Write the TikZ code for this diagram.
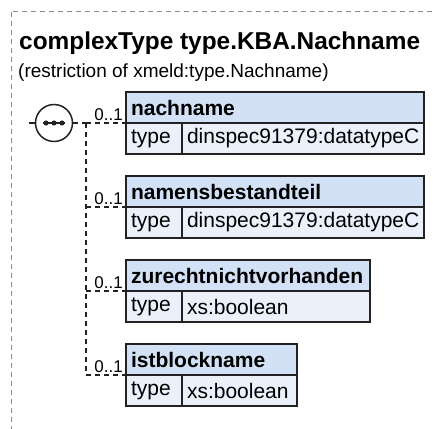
\documentclass[tikz,border=0pt]{standalone}
\usepackage{fontspec}
\setmainfont{Liberation Sans}
\usetikzlibrary{positioning,calc}
\definecolor{XsdDark}{HTML}{222222}
\definecolor{XsdHead}{HTML}{D3E1F6}
\definecolor{XsdRow}{HTML}{EAF1FB}
\definecolor{XsdFrame}{HTML}{8C8C8C}
\tikzset{
  figtitle/.style={font=\fontsize{24.4}{28}\selectfont\bfseries, inner sep=0pt, anchor=base west},
  restrnote/.style={font=\fontsize{19}{22}\selectfont, inner sep=0pt, anchor=base west},
  headbox/.style={draw=XsdDark, fill=XsdHead, line width=1.5pt, outer sep=0pt,
                  minimum height=31pt, inner xsep=5pt, inner ysep=0pt, text width=#1-10pt,
                  align=left, anchor=north west, font=\fontsize{21}{24}\selectfont\bfseries},
  typecell/.style={draw=XsdDark, fill=XsdRow, line width=1.5pt, outer sep=0pt,
                   minimum height=31pt, inner xsep=5pt, inner ysep=0pt, text width=46pt,
                   align=left, anchor=north west, font=\fontsize{21}{24}\selectfont},
  valbox/.style={typecell, text width=#1-10pt},
  occ/.style={font=\fontsize{17}{19}\selectfont, inner sep=0pt},
  conn/.style={dash pattern=on 5pt off 4pt, line width=1.5pt, XsdDark},
}

\begin{document}
\begin{tikzpicture}[x=1pt,y=-1pt]
  \tikzset{
    frame/.style={dash pattern=on 5pt off 4pt, line width=1pt, XsdFrame},
    seqcircle/.style={circle, draw=XsdDark, fill=white, line width=1.5pt,
                      minimum size=37pt, inner sep=0pt, outer sep=0pt},
  }
  \clip (0,0) rectangle (433,428);

  % frame of the complex type, runs off the page
  \draw[frame] (11,12) rectangle (470,470);
  \node[figtitle] (title) at (19,49) {complexType type.KBA.Nachname};
  \node[restrnote] (restr) at (18,77) {(restriction of xmeld:type.Nachname)};

  % sequence compositor
  \node[seqcircle] (seq) at (54,123) {};
  \draw[line width=1.5pt, XsdDark] (seq.west) -- ++(-7,0);
  \draw[line width=1.2pt, XsdDark] ($(seq.center)+(-11,0)$) -- ($(seq.center)+(11,0)$);
  \foreach \dx in {-8,0,8}
    \fill[XsdDark] ($(seq.center)+(\dx,0)$) circle (2.6pt);

  % elements, top edges 84 apart
  \node[headbox=298pt] (nachname) at (126,92) {nachname};
  \node[typecell] (nachnameT) at (nachname.south west) {type};
  \node[valbox=242pt] (nachnameV) at (nachnameT.north east) {dinspec91379:datatypeC};

  \node[headbox=298pt] (bestand) at (126,176) {namensbestandteil};
  \node[typecell] (bestandT) at (bestand.south west) {type};
  \node[valbox=242pt] (bestandV) at (bestandT.north east) {dinspec91379:datatypeC};

  \node[headbox=244pt] (zurecht) at (126,260) {zurechtnichtvorhanden};
  \node[typecell] (zurechtT) at (zurecht.south west) {type};
  \node[valbox=188pt] (zurechtV) at (zurechtT.north east) {xs:boolean};

  \node[headbox=171pt] (block) at (126,344) {istblockname};
  \node[typecell] (blockT) at (block.south west) {type};
  \node[valbox=115pt] (blockV) at (blockT.north east) {xs:boolean};

  % occurrence labels
  \node[occ, above left=2pt and 3pt of nachname.south west] (occ1) {0..1};
  \node[occ, above left=2pt and 3pt of bestand.south west] (occ2) {0..1};
  \node[occ, above left=2pt and 3pt of zurecht.south west] (occ3) {0..1};
  \node[occ, above left=2pt and 3pt of block.south west] (occ4) {0..1};

  % optional members: dashed connectors
  \coordinate (rail) at (86,0);
  \coordinate (j1) at (rail |- nachname.south west);
  \coordinate (j2) at (rail |- bestand.south west);
  \coordinate (j3) at (rail |- zurecht.south west);
  \coordinate (j4) at (rail |- block.south west);
  \draw[conn] (seq.east) -- (j1);
  \draw[conn] (j1) -- (j4);
  \draw[conn] (j1) -- (nachname.south west);
  \draw[conn] (j2) -- (bestand.south west);
  \draw[conn] (j3) -- (zurecht.south west);
  \draw[conn] (j4) -- (block.south west);
\end{tikzpicture}
\end{document}
